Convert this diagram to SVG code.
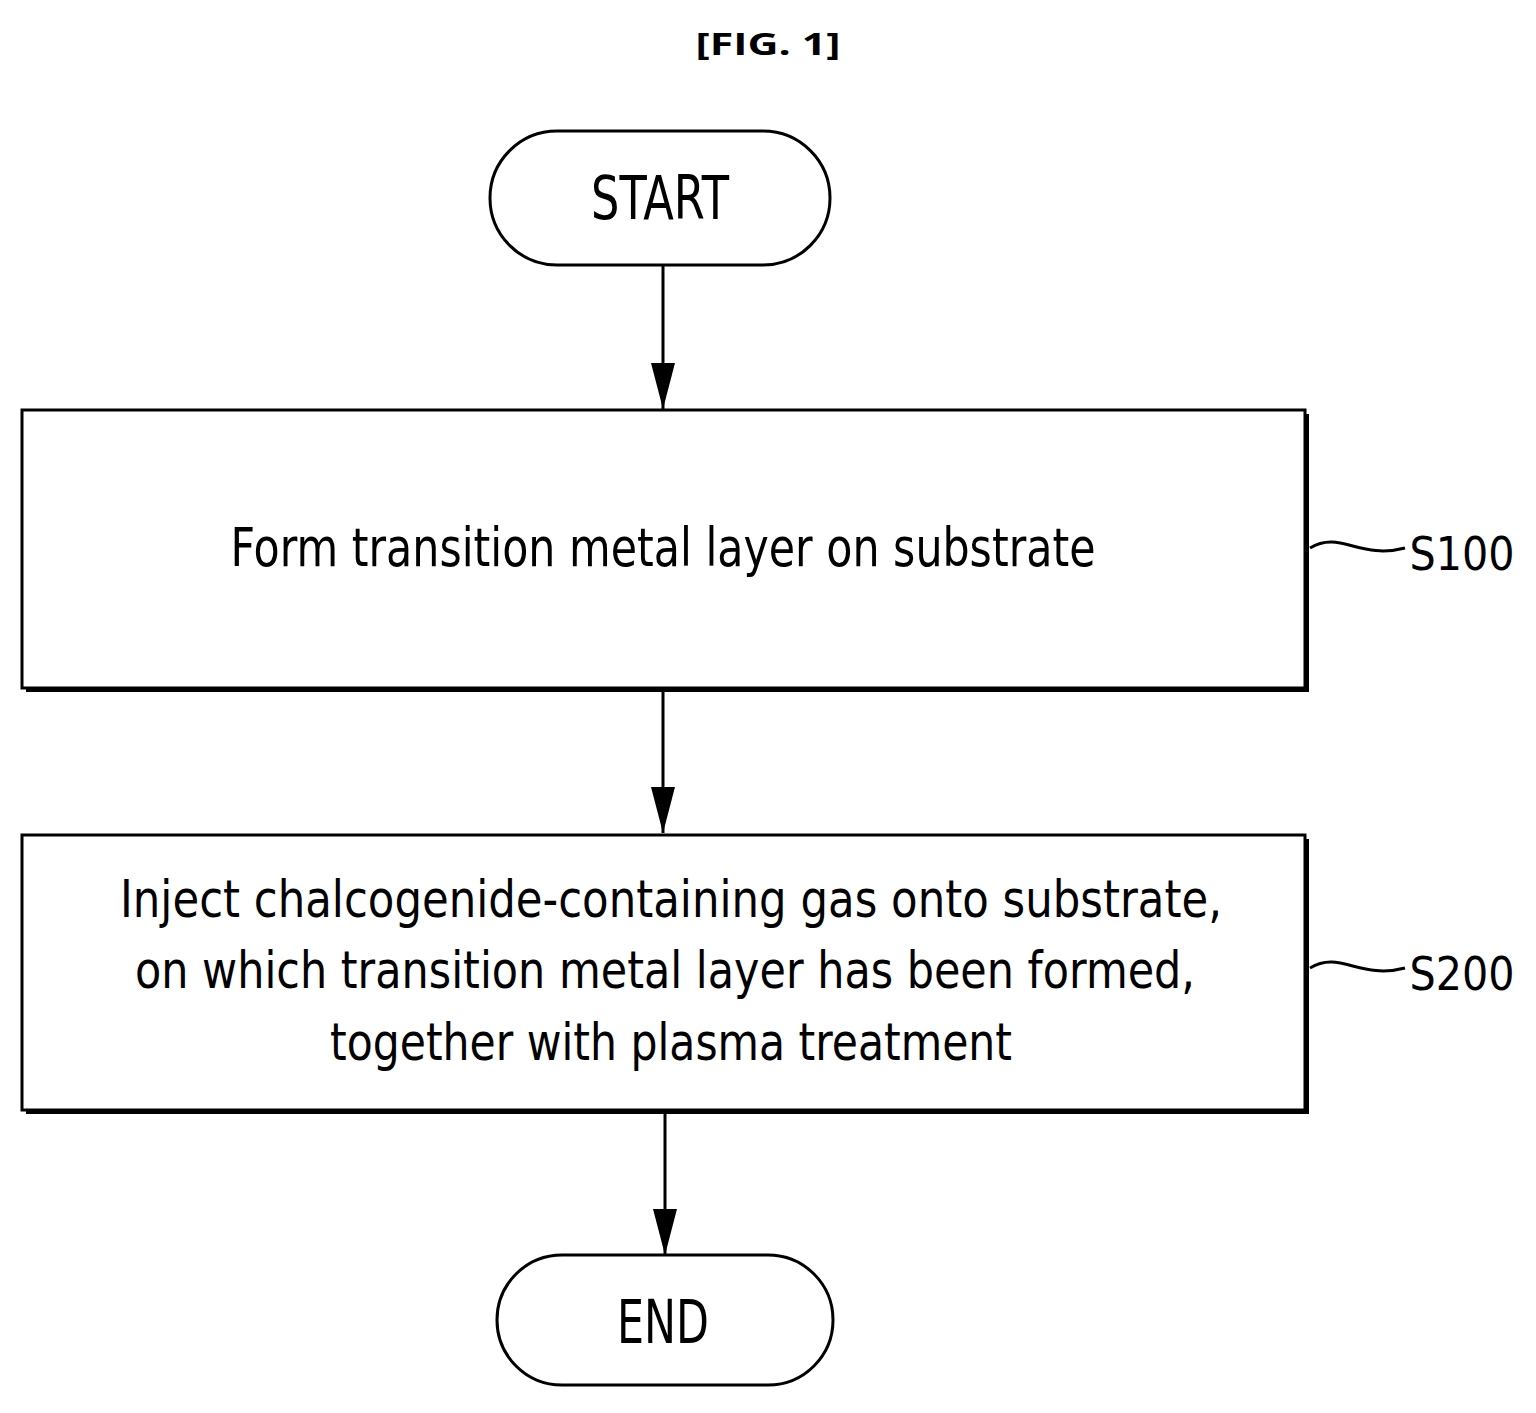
<svg xmlns="http://www.w3.org/2000/svg" width="1536" height="1413" viewBox="0 0 1536 1413">
<style>
.t{font-family:"DejaVu Sans",sans-serif;fill:#000;text-anchor:middle}
.b{fill:#fff;stroke:#000;stroke-width:3}
.c{stroke:#000;stroke-width:3;fill:none}
</style>
<defs>
<marker id="a" markerWidth="46" markerHeight="24" refX="46" refY="12" orient="auto" markerUnits="userSpaceOnUse" viewBox="0 0 46 24"><path d="M0 0L46 12L0 24Z" fill="#000"/></marker>
</defs>
<text x="768" y="55" style="font-family:'Open Sans','DejaVu Sans',sans-serif;font-weight:bold;font-size:30px" text-anchor="middle" textLength="145" lengthAdjust="spacingAndGlyphs">[FIG. 1]</text>
<g id="connectors">
<line class="c" x1="663" y1="265" x2="663" y2="409" marker-end="url(#a)"/>
<line class="c" x1="663" y1="690" x2="663" y2="833" marker-end="url(#a)"/>
<line class="c" x1="665" y1="1112" x2="665" y2="1255" marker-end="url(#a)"/>
<path class="c" stroke-width="2" d="M1310 548 C1340 530 1360 560 1405 548"/>
<path class="c" stroke-width="2" d="M1310 968 C1340 950 1360 980 1405 968"/>
</g>
<g id="start">
<rect class="b" x="490" y="131" width="340" height="134" rx="67"/>
<text class="t" x="660" y="219" font-size="60" textLength="138" lengthAdjust="spacingAndGlyphs">START</text>
</g>
<g id="s100">
<rect x="26" y="414" width="1283" height="278" fill="#000"/>
<rect class="b" x="22" y="410" width="1283" height="278"/>
<text class="t" x="663" y="566" font-size="54" textLength="865" lengthAdjust="spacingAndGlyphs">Form transition metal layer on substrate</text>
<text class="t" x="1462" y="570" font-size="46" textLength="105" lengthAdjust="spacingAndGlyphs">S100</text>
</g>
<g id="s200">
<rect x="26" y="839" width="1283" height="275" fill="#000"/>
<rect class="b" x="22" y="835" width="1283" height="275"/>
<text class="t" x="671" y="917" font-size="52" textLength="1102" lengthAdjust="spacingAndGlyphs">Inject chalcogenide-containing gas onto substrate,</text>
<text class="t" x="665" y="988" font-size="52" textLength="1060" lengthAdjust="spacingAndGlyphs">on which transition metal layer has been formed,</text>
<text class="t" x="671" y="1060" font-size="52" textLength="682" lengthAdjust="spacingAndGlyphs">together with plasma treatment</text>
<text class="t" x="1462" y="990" font-size="46" textLength="105" lengthAdjust="spacingAndGlyphs">S200</text>
</g>
<g id="end">
<rect class="b" x="497" y="1255" width="336" height="130" rx="65"/>
<text class="t" x="663" y="1343" font-size="60" textLength="92" lengthAdjust="spacingAndGlyphs">END</text>
</g>
</svg>
